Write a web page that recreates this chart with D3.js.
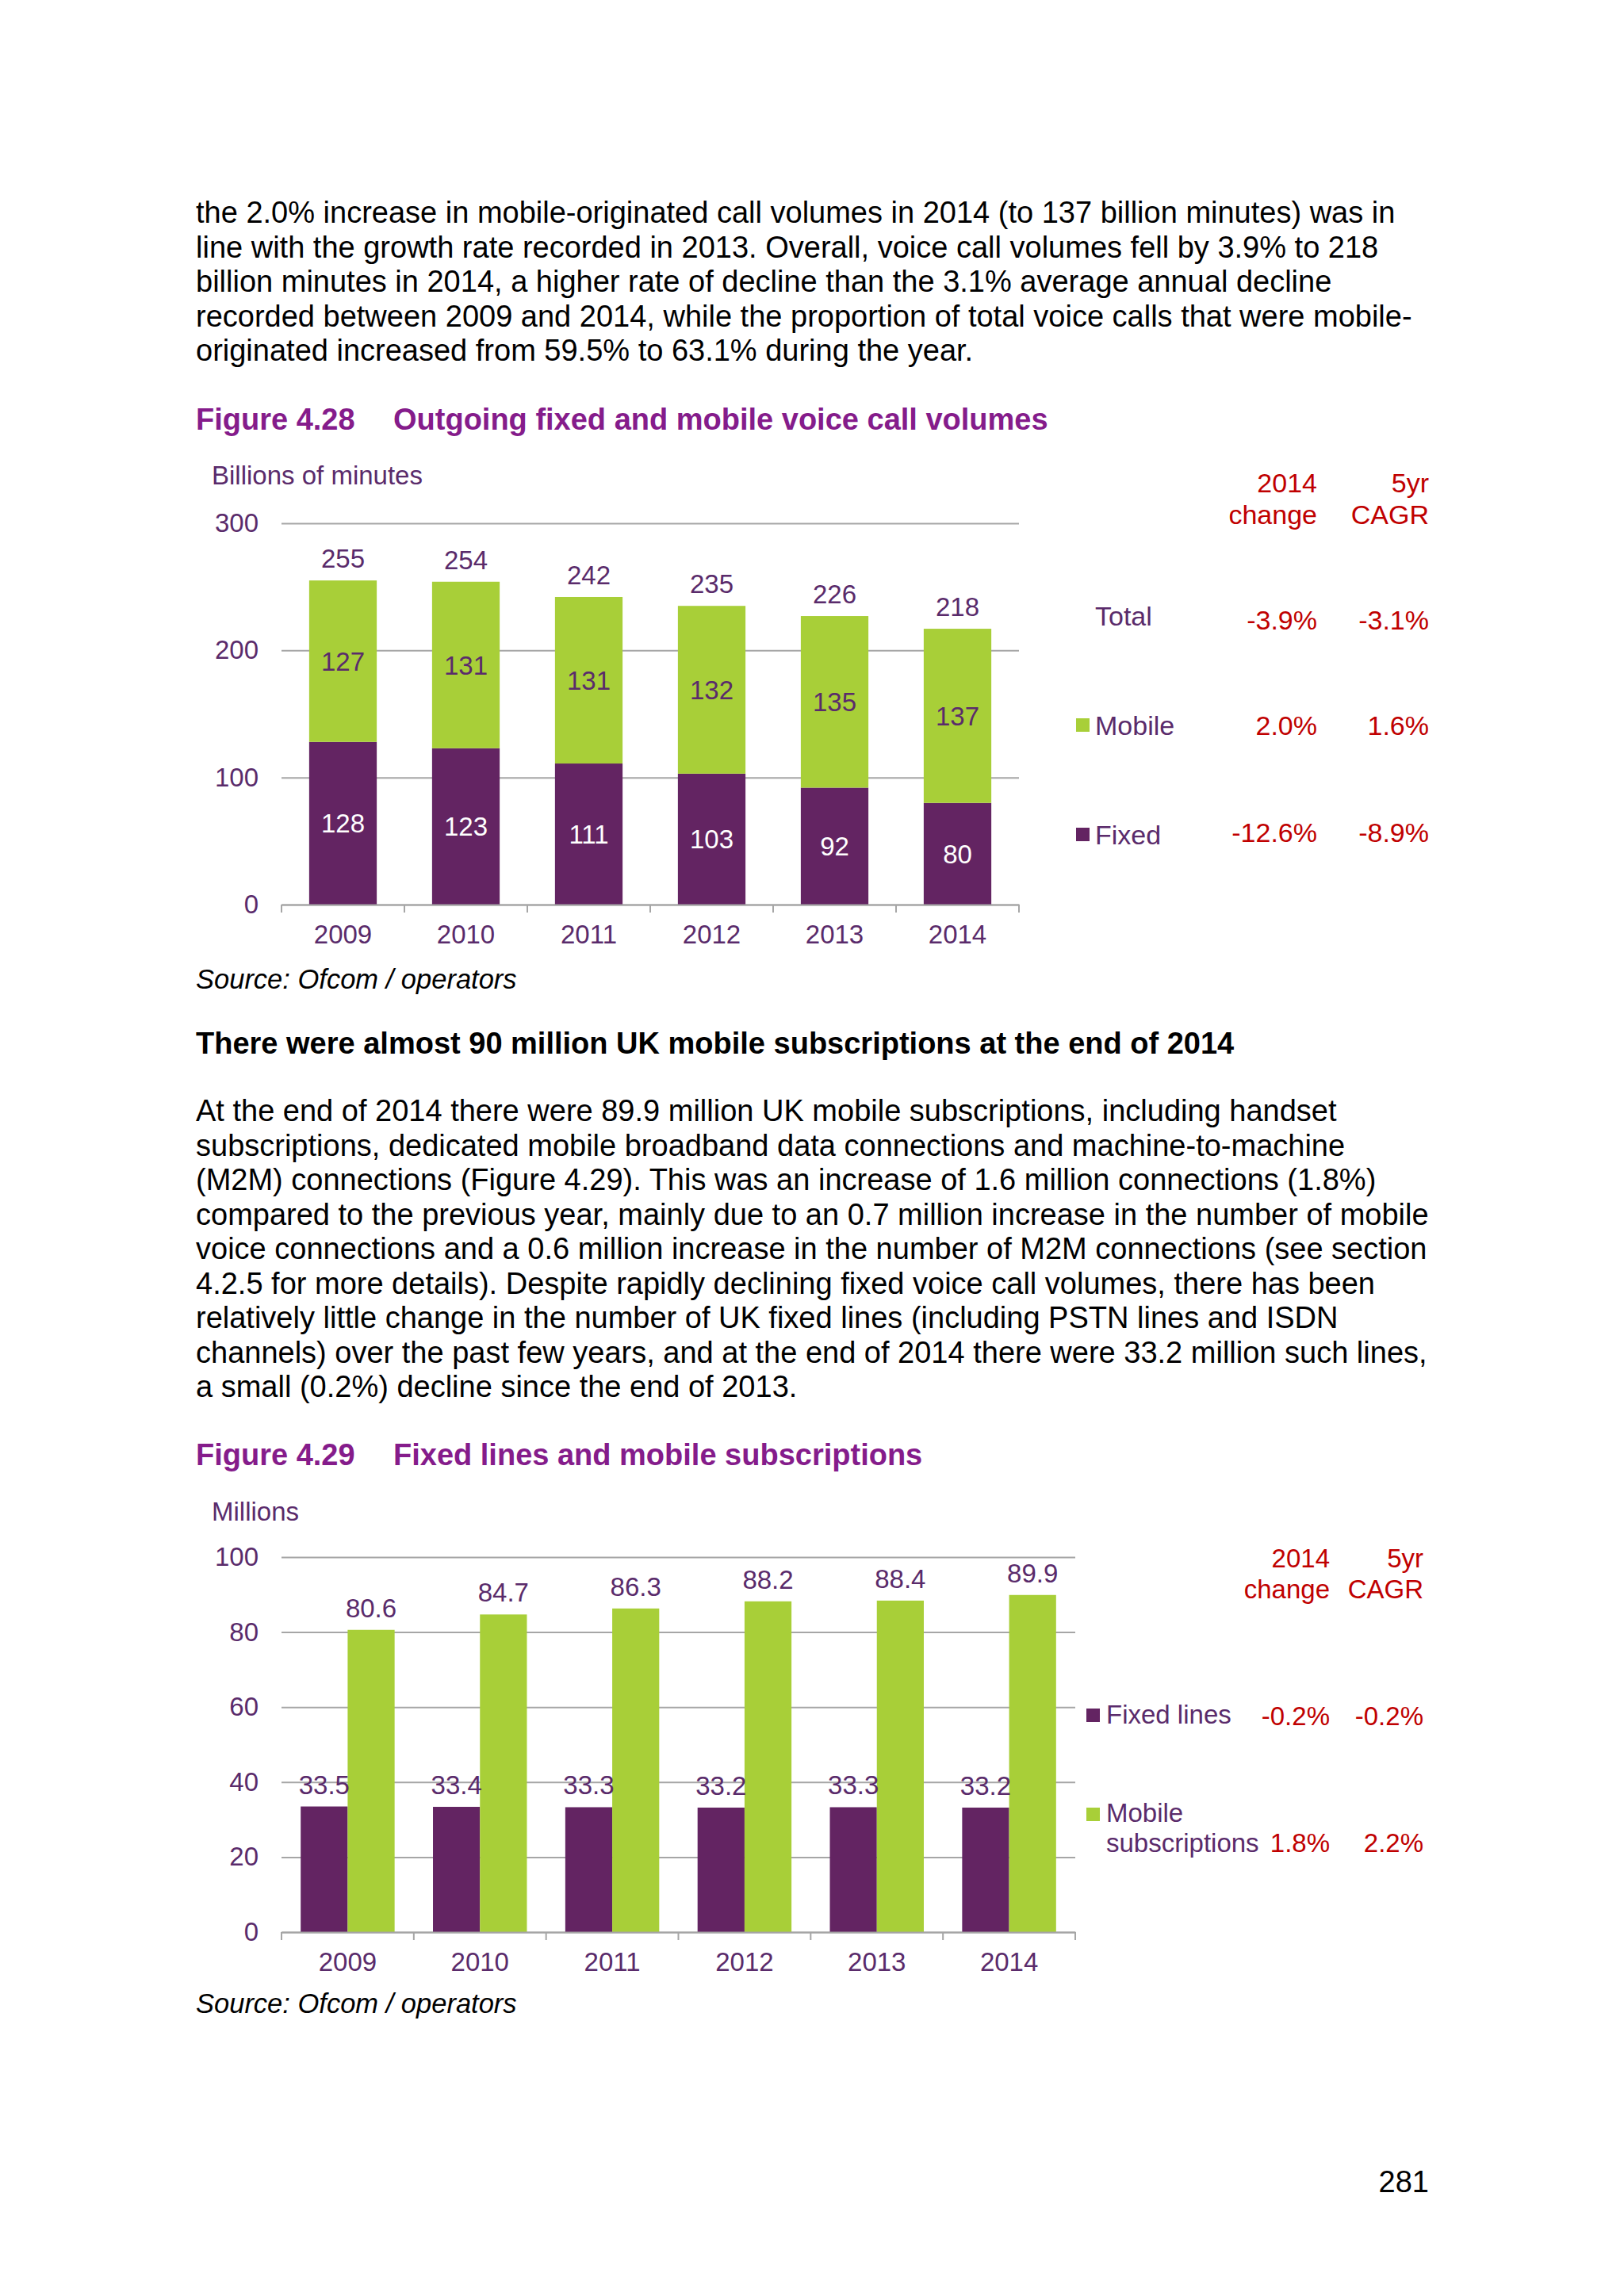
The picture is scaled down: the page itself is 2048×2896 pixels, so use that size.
<!DOCTYPE html>
<html>
<head>
<meta charset="utf-8">
<script src="https://cdnjs.cloudflare.com/ajax/libs/d3/7.8.5/d3.min.js"></script>
<style>
  html, body { margin: 0; padding: 0; background: #ffffff; }
  svg { display: block; }
  text { font-family: "Liberation Sans", Arial, sans-serif; }
</style>
</head>
<body>
<svg id="page" width="2048" height="2896"></svg>
<script>
// ---------- DATA ----------
const years = ["2009", "2010", "2011", "2012", "2013", "2014"];

// Figure 4.28 – billions of minutes
const fixedCalls  = [128, 123, 111, 103, 92, 80];
const mobileCalls = [127, 131, 131, 132, 135, 137];
const totalCalls  = [255, 254, 242, 235, 226, 218];
const callTicks   = [0, 100, 200, 300];

const callTableRows   = ["Total", "Mobile", "Fixed"];
const callChange2014  = ["-3.9%", "2.0%", "-12.6%"];
const callCagr5yr     = ["-3.1%", "1.6%", "-8.9%"];

// Figure 4.29 – millions
const fixedLines  = [33.5, 33.4, 33.3, 33.2, 33.3, 33.2];
const mobileSubs  = [80.6, 84.7, 86.3, 88.2, 88.4, 89.9];
const subsTicks   = [0, 20, 40, 60, 80, 100];

const subsTableRows  = ["Fixed lines", "Mobile subscriptions"];
const subsChange2014 = ["-0.2%", "1.8%"];
const subsCagr5yr    = ["-0.2%", "2.2%"];

// ---------- TEXT ----------
const para1 = [
  "the 2.0% increase in mobile-originated call volumes in 2014 (to 137 billion minutes) was in",
  "line with the growth rate recorded in 2013. Overall, voice call volumes fell by 3.9% to 218",
  "billion minutes in 2014, a higher rate of decline than the 3.1% average annual decline",
  "recorded between 2009 and 2014, while the proportion of total voice calls that were mobile-",
  "originated increased from 59.5% to 63.1% during the year."
];
const para2 = [
  "At the end of 2014 there were 89.9 million UK mobile subscriptions, including handset",
  "subscriptions, dedicated mobile broadband data connections and machine-to-machine",
  "(M2M) connections (Figure 4.29). This was an increase of 1.6 million connections (1.8%)",
  "compared to the previous year, mainly due to an 0.7 million increase in the number of mobile",
  "voice connections and a 0.6 million increase in the number of M2M connections (see section",
  "4.2.5 for more details). Despite rapidly declining fixed voice call volumes, there has been",
  "relatively little change in the number of UK fixed lines (including PSTN lines and ISDN",
  "channels) over the past few years, and at the end of 2014 there were 33.2 million such lines,",
  "a small (0.2%) decline since the end of 2013."
];

// ---------- STYLE ----------
const C = {
  fixed: "#632462",
  mobile: "#A8CF38",
  text: "#5A2B6B",
  title: "#851C8B",
  red: "#C00000",
  grid: "#A6A6A6",
  body: "#000000"
};
const BODY_FS = 38;
const LEFT = 247;
const LH = 43.5;
const CHART_FS = 33;

const svg = d3.select("#page");
svg.append("rect").attr("width", 2048).attr("height", 2896).attr("fill", "#fff");

function paragraph(lines, y0) {
  const g = svg.append("g");
  g.selectAll("text").data(lines).join("text")
    .attr("x", LEFT)
    .attr("y", (d, i) => y0 + i * LH)
    .attr("font-size", BODY_FS)
    .attr("fill", C.body)
    .text(d => d);
}
function figTitle(num, title, y) {
  svg.append("text").attr("x", LEFT).attr("y", y)
    .attr("font-size", 38).attr("font-weight", "bold").attr("fill", C.title).text(num);
  svg.append("text").attr("x", 496).attr("y", y)
    .attr("font-size", 38).attr("font-weight", "bold").attr("fill", C.title).text(title);
}
function source(y) {
  svg.append("text").attr("x", LEFT).attr("y", y)
    .attr("font-size", 34.5).attr("font-style", "italic").attr("fill", C.body)
    .text("Source: Ofcom / operators");
}

paragraph(para1, 281);
figTitle("Figure 4.28", "Outgoing fixed and mobile voice call volumes", 542);
source(1247);
svg.append("text").attr("x", LEFT).attr("y", 1329)
  .attr("font-size", BODY_FS).attr("font-weight", "bold").attr("fill", C.body)
  .text("There were almost 90 million UK mobile subscriptions at the end of 2014");
paragraph(para2, 1414);
figTitle("Figure 4.29", "Fixed lines and mobile subscriptions", 1848);
source(2539);
svg.append("text").attr("x", 1802).attr("y", 2765).attr("text-anchor", "end")
  .attr("font-size", BODY_FS).attr("fill", C.body).text("281");

// ---------- helpers for axes ----------
function drawYAxis(g, y, ticks, x0, x1) {
  const ax = g.append("g").attr("transform", `translate(${x0},0)`)
    .call(d3.axisLeft(y).tickValues(ticks).tickSize(-(x1 - x0)).tickPadding(29).tickFormat(d3.format("d")));
  ax.select(".domain").remove();
  ax.selectAll(".tick line").attr("stroke", C.grid).attr("stroke-width", 2);
  ax.selectAll(".tick text").attr("font-size", CHART_FS).attr("fill", C.text)
    .attr("font-family", "'Liberation Sans', Arial, sans-serif");
}
function drawXAxis(g, x, yBase) {
  const ax = g.append("g").attr("transform", `translate(0,${yBase})`)
    .call(d3.axisBottom(x).tickSize(0).tickPadding(26));
  ax.select(".domain").attr("stroke", C.grid).attr("stroke-width", 2);
  ax.selectAll(".tick text").attr("font-size", CHART_FS).attr("fill", C.text)
    .attr("font-family", "'Liberation Sans', Arial, sans-serif");
  const r = x.range();
  const step = x.step();
  const bounds = d3.range(years.length + 1).map(i => r[0] + i * step);
  g.append("g").selectAll("line").data(bounds).join("line")
    .attr("x1", d => d).attr("x2", d => d)
    .attr("y1", yBase).attr("y2", yBase + 10)
    .attr("stroke", C.grid).attr("stroke-width", 2);
}

// ---------- FIGURE 4.28 ----------
{
  const g = svg.append("g");
  const x0 = 355, x1 = 1285, yB = 1141, yT = 660;
  const x = d3.scaleBand().domain(years).range([x0, x1]).paddingInner(0.45).paddingOuter(0.225);
  const y = d3.scaleLinear().domain([0, 300]).range([yB, yT]);

  g.append("text").attr("x", 267).attr("y", 611).attr("font-size", CHART_FS).attr("fill", C.text)
    .text("Billions of minutes");

  drawYAxis(g, y, callTicks, x0, x1);

  const rows = years.map((yr, i) => ({ yr, fixed: fixedCalls[i], mobile: mobileCalls[i], total: totalCalls[i] }));
  const stack = d3.stack().keys(["fixed", "mobile"])(rows);
  const colors = { fixed: C.fixed, mobile: C.mobile };

  g.append("g").selectAll("g").data(stack).join("g")
    .attr("fill", s => colors[s.key])
    .selectAll("rect").data(s => s).join("rect")
    .attr("x", d => x(d.data.yr))
    .attr("width", x.bandwidth())
    .attr("y", d => y(d[1]))
    .attr("height", d => y(d[0]) - y(d[1]));

  drawXAxis(g, x, yB);

  // segment labels
  stack.forEach(s => {
    g.append("g").selectAll("text").data(s).join("text")
      .attr("x", d => x(d.data.yr) + x.bandwidth() / 2)
      .attr("y", d => (y(d[0]) + y(d[1])) / 2)
      .attr("dy", "0.36em")
      .attr("text-anchor", "middle")
      .attr("font-size", CHART_FS)
      .attr("fill", s.key === "fixed" ? "#ffffff" : C.text)
      .text(d => d.data[s.key]);
  });
  // totals
  g.append("g").selectAll("text").data(rows).join("text")
    .attr("x", d => x(d.yr) + x.bandwidth() / 2)
    .attr("y", d => y(d.fixed + d.mobile) - 16)
    .attr("text-anchor", "middle")
    .attr("font-size", CHART_FS)
    .attr("fill", C.text)
    .text(d => d.total);

  // side table
  const t = svg.append("g").attr("font-size", 34);
  const cA = 1661, cB = 1802;
  t.append("text").attr("x", cA).attr("y", 621).attr("text-anchor", "end").attr("fill", C.red).text("2014");
  t.append("text").attr("x", cA).attr("y", 661).attr("text-anchor", "end").attr("fill", C.red).text("change");
  t.append("text").attr("x", cB).attr("y", 621).attr("text-anchor", "end").attr("fill", C.red).text("5yr");
  t.append("text").attr("x", cB).attr("y", 661).attr("text-anchor", "end").attr("fill", C.red).text("CAGR");

  const rowLabelY = [789, 927, 1065];
  const rowValY = [794, 927, 1062];
  const rowSwatch = [null, C.mobile, C.fixed];
  callTableRows.forEach((name, i) => {
    if (rowSwatch[i]) {
      t.append("rect").attr("x", 1357).attr("y", rowLabelY[i] - 21).attr("width", 17).attr("height", 17)
        .attr("fill", rowSwatch[i]);
    }
    t.append("text").attr("x", 1381).attr("y", rowLabelY[i]).attr("fill", C.text).text(name);
    t.append("text").attr("x", cA).attr("y", rowValY[i]).attr("text-anchor", "end").attr("fill", C.red).text(callChange2014[i]);
    t.append("text").attr("x", cB).attr("y", rowValY[i]).attr("text-anchor", "end").attr("fill", C.red).text(callCagr5yr[i]);
  });
}

// ---------- FIGURE 4.29 ----------
{
  const g = svg.append("g");
  const x0 = 355, x1 = 1356, yB = 2437, yT = 1964;
  const x = d3.scaleBand().domain(years).range([x0, x1]).paddingInner(0.29).paddingOuter(0.145);
  const xs = d3.scaleBand().domain(["fixed", "mobile"]).range([0, x.bandwidth()]).padding(0);
  const y = d3.scaleLinear().domain([0, 100]).range([yB, yT]);

  g.append("text").attr("x", 267).attr("y", 1918).attr("font-size", CHART_FS).attr("fill", C.text)
    .text("Millions");

  drawYAxis(g, y, subsTicks, x0, x1);

  const rows = years.map((yr, i) => ({ yr, fixed: fixedLines[i], mobile: mobileSubs[i] }));
  const series = ["fixed", "mobile"];
  const colors = { fixed: C.fixed, mobile: C.mobile };

  const grp = g.append("g").selectAll("g").data(rows).join("g")
    .attr("transform", d => `translate(${x(d.yr)},0)`);
  grp.selectAll("rect").data(d => series.map(k => ({ k, v: d[k] }))).join("rect")
    .attr("x", d => xs(d.k))
    .attr("width", xs.bandwidth())
    .attr("y", d => y(d.v))
    .attr("height", d => yB - y(d.v))
    .attr("fill", d => colors[d.k]);
  grp.selectAll("text").data(d => series.map(k => ({ k, v: d[k] }))).join("text")
    .attr("x", d => xs(d.k) + xs.bandwidth() / 2)
    .attr("y", d => y(d.v) - 16)
    .attr("text-anchor", "middle")
    .attr("font-size", CHART_FS)
    .attr("fill", C.text)
    .text(d => d3.format(".1f")(d.v));

  drawXAxis(g, x, yB);

  const t = svg.append("g").attr("font-size", 33);
  const cA = 1677, cB = 1795;
  t.append("text").attr("x", cA).attr("y", 1977).attr("text-anchor", "end").attr("fill", C.red).text("2014");
  t.append("text").attr("x", cA).attr("y", 2016).attr("text-anchor", "end").attr("fill", C.red).text("change");
  t.append("text").attr("x", cB).attr("y", 1977).attr("text-anchor", "end").attr("fill", C.red).text("5yr");
  t.append("text").attr("x", cB).attr("y", 2016).attr("text-anchor", "end").attr("fill", C.red).text("CAGR");

  // Fixed lines row
  t.append("rect").attr("x", 1370).attr("y", 2155).attr("width", 17).attr("height", 17).attr("fill", C.fixed);
  t.append("text").attr("x", 1395).attr("y", 2174).attr("fill", C.text).text(subsTableRows[0]);
  t.append("text").attr("x", cA).attr("y", 2176).attr("text-anchor", "end").attr("fill", C.red).text(subsChange2014[0]);
  t.append("text").attr("x", cB).attr("y", 2176).attr("text-anchor", "end").attr("fill", C.red).text(subsCagr5yr[0]);

  // Mobile subscriptions row (wrapped label)
  const words = subsTableRows[1].split(" ");
  t.append("rect").attr("x", 1370).attr("y", 2280).attr("width", 17).attr("height", 17).attr("fill", C.mobile);
  t.append("text").attr("x", 1395).attr("y", 2298).attr("fill", C.text).text(words[0]);
  t.append("text").attr("x", 1395).attr("y", 2336).attr("fill", C.text).text(words[1]);
  t.append("text").attr("x", cA).attr("y", 2336).attr("text-anchor", "end").attr("fill", C.red).text(subsChange2014[1]);
  t.append("text").attr("x", cB).attr("y", 2336).attr("text-anchor", "end").attr("fill", C.red).text(subsCagr5yr[1]);
}
</script>
</body>
</html>
